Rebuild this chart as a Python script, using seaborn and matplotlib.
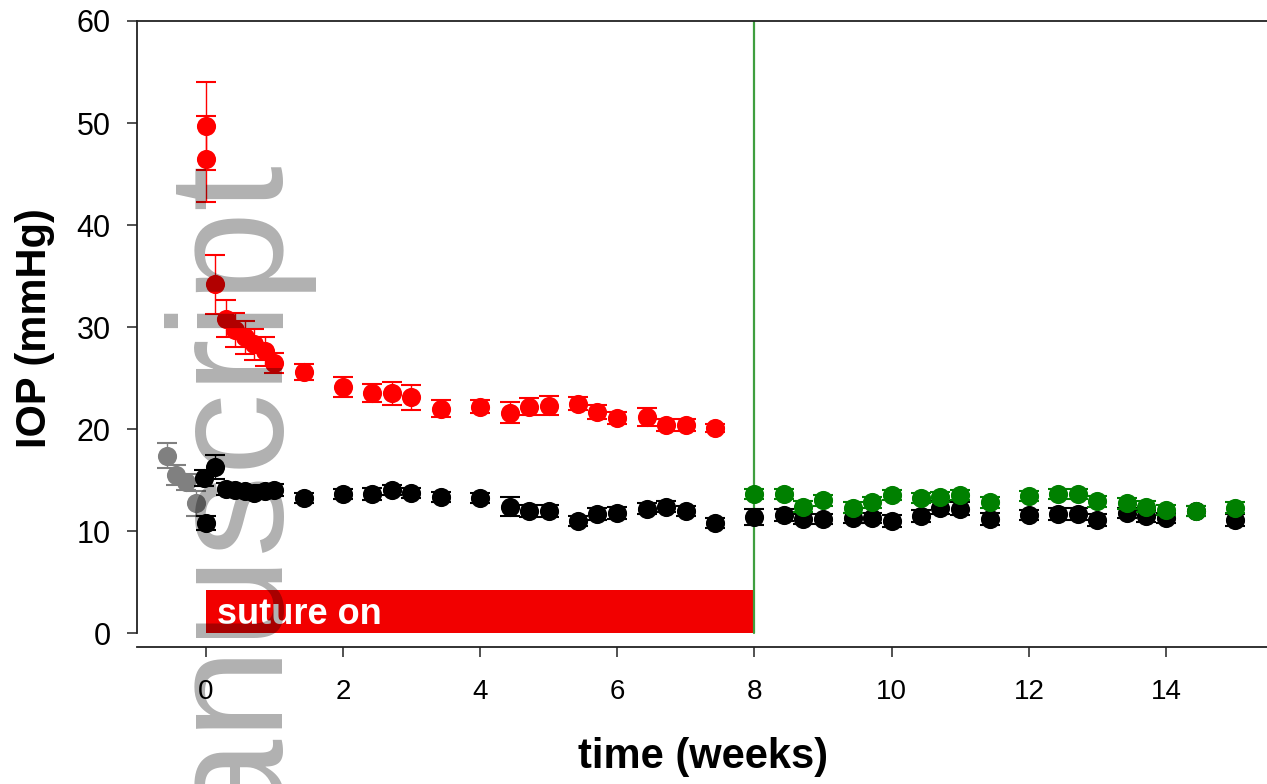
import matplotlib
matplotlib.use("Agg")
import matplotlib.pyplot as plt
import seaborn as sns
import numpy as np

# ---------------- data ----------------
gray_t = [-0.57, -0.43, -0.29, -0.14]
gray_v = [17.4, 15.5, 14.8, 12.7]
gray_e = [1.2, 1.0, 0.8, 1.2]

black_t = [-0.02, 0.0, 0.13, 0.29, 0.43, 0.57, 0.71, 0.86, 1.0,
           1.43, 2.0, 2.43, 2.71, 3.0, 3.43,
           4.0, 4.43, 4.71, 5.0, 5.43, 5.71, 6.0, 6.43, 6.71, 7.0, 7.43,
           8.0, 8.43, 8.71, 9.0, 9.43, 9.71, 10.0, 10.43, 10.71, 11.0, 11.43,
           12.0, 12.43, 12.71, 13.0, 13.43, 13.71, 14.0, 14.43, 15.0]
black_v = [15.2, 10.8, 16.3, 14.1, 14.0, 13.9, 13.7, 13.9, 14.0,
           13.2, 13.6, 13.6, 14.0, 13.7, 13.3,
           13.2, 12.4, 12.0, 12.0, 11.0, 11.7, 11.8, 12.2, 12.4, 12.0, 10.8,
           11.4, 11.6, 11.2, 11.2, 11.3, 11.3, 11.0, 11.5, 12.3, 12.2, 11.2,
           11.6, 11.7, 11.7, 11.1, 11.8, 11.5, 11.3, 12.0, 11.1]
black_e = [0.8, 0.7, 1.2, 0.6, 0.5, 0.5, 0.6, 0.6, 0.6,
           0.5, 0.5, 0.6, 0.5, 0.5, 0.5,
           0.5, 0.95, 0.6, 0.6, 0.5, 0.6, 0.6, 0.5, 0.5, 0.5, 0.5,
           0.8, 0.6, 0.5, 0.5, 0.5, 0.5, 0.6, 0.6, 0.6, 0.6, 0.6,
           0.5, 0.6, 0.6, 0.6, 0.5, 0.6, 0.5, 0.5, 0.6]

red_t = [0.01, 0.01, 0.14, 0.29, 0.43, 0.57, 0.71, 0.86, 1.0,
         1.43, 2.0, 2.43, 2.71, 3.0, 3.43,
         4.0, 4.43, 4.71, 5.0, 5.43, 5.71, 6.0, 6.43, 6.71, 7.0, 7.43]
red_v = [49.7, 46.5, 34.2, 30.8, 29.7, 29.0, 28.3, 27.6, 26.5,
         25.6, 24.1, 23.5, 23.5, 23.1, 22.0,
         22.2, 21.6, 22.2, 22.3, 22.5, 21.7, 21.1, 21.2, 20.4, 20.4, 20.1]
red_e = [4.3, 4.2, 2.9, 1.8, 1.7, 1.6, 1.5, 1.4, 1.0,
         0.8, 1.0, 0.9, 1.1, 1.2, 0.8,
         0.6, 1.0, 0.85, 0.95, 0.6, 0.7, 0.6, 0.9, 0.6, 0.6, 0.4]

green_t = [8.0, 8.43, 8.71, 9.0, 9.43, 9.71, 10.0, 10.43, 10.71, 11.0, 11.43,
           12.0, 12.43, 12.71, 13.0, 13.43, 13.71, 14.0, 14.43, 15.0]
green_v = [13.6, 13.6, 12.4, 13.0, 12.3, 12.8, 13.5, 13.2, 13.3, 13.5, 12.8,
           13.4, 13.6, 13.6, 12.9, 12.7, 12.4, 12.1, 12.0, 12.3]
green_e = [0.5] * 20

x_ticks = [0, 2, 4, 6, 8, 10, 12, 14]
y_ticks = [0, 10, 20, 30, 40, 50, 60]
suture_start, suture_end, suture_height = 0, 8, 4.2

# ---------------- style ----------------
sns.set_style("white")
plt.rcParams['font.family'] = ['Liberation Sans', 'DejaVu Sans']
plt.rcParams['text.color'] = 'black'
plt.rcParams['axes.labelcolor'] = 'black'
plt.rcParams['xtick.color'] = 'black'
plt.rcParams['ytick.color'] = 'black'

fig = plt.figure(figsize=(12.67, 7.84), dpi=100)
ax = fig.add_axes([137 / 1267, 137 / 784, 1132 / 1267, 626 / 784])

series = [
    (gray_t, gray_v, gray_e, '#808080', 3),
    (black_t, black_v, black_e, '#000000', 4),
    (red_t, red_v, red_e, '#ff0000', 5),
    (green_t, green_v, green_e, '#008000', 6),
]
for t, v, e, c, z in series:
    ax.errorbar(t, v, yerr=e, fmt='none', ecolor=c, elinewidth=1.0,
                capsize=7, capthick=1.5, zorder=z)
    sns.scatterplot(x=t, y=v, color=c, s=190, linewidth=0, ax=ax,
                    zorder=z, legend=False)

# suture bar
ax.barh(y=suture_height / 2, width=suture_end - suture_start, left=suture_start,
        height=suture_height, color='#f20000', zorder=2, linewidth=0)
ax.text(0.17, 0.85, 'suture on', color='white', fontsize=26,
        fontweight='bold', ha='left', va='baseline', zorder=2.5)

# green vertical line at suture removal
ax.plot([suture_end, suture_end], [0, 60], color='#3f9f3f', lw=1.6, zorder=2.2)

ax.set_xlim(-1, 15.5)
ax.set_ylim(-1.37, 60)
ax.set_xticks(x_ticks)
ax.set_yticks(y_ticks)
ax.set_xticklabels([str(x) for x in x_ticks], fontsize=20, color='black')
ax.set_yticklabels([str(y) for y in y_ticks], fontsize=22, color='black')

for s in ['left', 'bottom', 'top']:
    ax.spines[s].set_visible(True)
    ax.spines[s].set_color('#222222')
    ax.spines[s].set_linewidth(1.3)
ax.spines['right'].set_visible(False)
ax.spines['left'].set_bounds(0, 60)

ax.tick_params(axis='both', direction='out', length=7, width=1.1,
               color='#222222', left=True, bottom=True)
ax.tick_params(axis='y', pad=12)
ax.tick_params(axis='x', pad=16)

ax.set_xlabel('time (weeks)', fontsize=30, fontweight='bold', va='center',
              color='black')
ax.set_ylabel('IOP (mmHg)', fontsize=30, fontweight='bold', va='center',
              color='black')
ax.xaxis.set_label_coords(0.5, -0.176)
ax.yaxis.set_label_coords(-0.090, 0.51)

# watermark
fig.text(283 / 1267, 1 - 165 / 784, 'Author Manuscript', rotation=90,
         rotation_mode='anchor', ha='right', va='baseline', fontsize=118,
         color='black', alpha=0.31, zorder=20, family='Liberation Sans')

fig.savefig('out.png', dpi=100)
